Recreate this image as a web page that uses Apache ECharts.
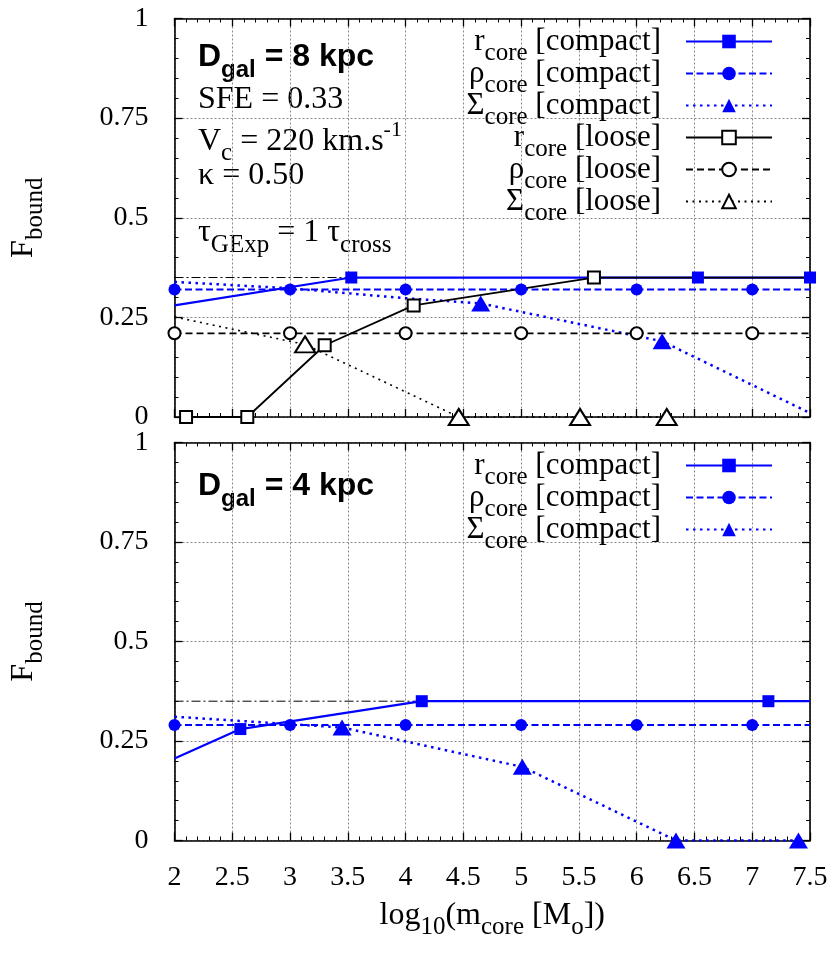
<!DOCTYPE html>
<html><head><meta charset="utf-8">
<script src="https://cdn.jsdelivr.net/npm/echarts/dist/echarts.min.js"></script>
<style>html,body{margin:0;padding:0;background:#fff}#c{width:830px;height:957px}</style>
</head><body><div id="c"></div>
<script>
// ---------- data ----------
const X_MIN = 2, X_MAX = 7.5, X_STEP = 0.5;
const Y_MIN = 0, Y_MAX = 1, Y_STEP = 0.25;

// Top panel: D_gal = 8 kpc
const top_rCompact_x = [2, 3.53, 6.53, 7.5];
const top_rCompact_y = [0.28, 0.35, 0.35, 0.35];
const top_rCompact_m = [0, 1, 1, 1];
const top_pCompact_x = [2, 3, 4, 5, 6, 7, 7.5];
const top_pCompact_y = [0.32, 0.32, 0.32, 0.32, 0.32, 0.32, 0.32];
const top_pCompact_m = [1, 1, 1, 1, 1, 1, 0];
const top_sCompact_x = [2, 3, 4, 4.65, 6.22, 7.5];
const top_sCompact_y = [0.339, 0.323, 0.298, 0.285, 0.19, 0.01];
const top_sCompact_m = [0, 0, 0, 1, 1, 0];
const top_rLoose_x = [2.1, 2.63, 3.3, 4.07, 5.63, 7.5];
const top_rLoose_y = [0, 0, 0.18, 0.28, 0.35, 0.35];
const top_rLoose_m = [1, 1, 1, 1, 1, 0];
const top_pLoose_x = [2, 3, 4, 5, 6, 7, 7.5];
const top_pLoose_y = [0.21, 0.21, 0.21, 0.21, 0.21, 0.21, 0.21];
const top_pLoose_m = [1, 1, 1, 1, 1, 1, 0];
const top_sLoose_x = [2, 3.13, 4.46, 5.51, 6.26];
const top_sLoose_y = [0.251, 0.182, 0, 0, 0];
const top_sLoose_m = [0, 1, 1, 1, 1];

// Bottom panel: D_gal = 4 kpc
const bot_rCompact_x = [2, 2.57, 4.14, 7.14, 7.5];
const bot_rCompact_y = [0.206, 0.28, 0.35, 0.35, 0.35];
const bot_rCompact_m = [0, 1, 1, 1, 0];
const bot_pCompact_x = [2, 3, 4, 5, 6, 7, 7.5];
const bot_pCompact_y = [0.29, 0.29, 0.29, 0.29, 0.29, 0.29, 0.29];
const bot_pCompact_m = [1, 1, 1, 1, 1, 1, 0];
const bot_sCompact_x = [2, 3.45, 5.01, 6.34, 7.4];
const bot_sCompact_y = [0.311, 0.284, 0.185, 0, 0];
const bot_sCompact_m = [0, 1, 1, 1, 1];

// reference level (dash-dot)
const refLine_x = [2, 7.5];
const refLine_y = [0.35, 0.35];

// legend labels
const legendNames_top = ['r8c', 'p8c', 's8c', 'r8l', 'p8l', 's8l'];
const legendNames_bot = ['r4c', 'p4c', 's4c'];
const legendSym  = {r8c:'r', p8c:'ρ', s8c:'Σ', r8l:'r', p8l:'ρ', s8l:'Σ', r4c:'r', p4c:'ρ', s4c:'Σ'};
const legendKind = {r8c:'compact', p8c:'compact', s8c:'compact', r8l:'loose', p8l:'loose', s8l:'loose', r4c:'compact', p4c:'compact', s4c:'compact'};

// ---------- styles ----------
const BLUE = '#0000ff';
const SERIF = 'Liberation Serif';
const SANS = 'Liberation Sans';
const ST = {
  rc: {symbol:'rect', size:12, color:BLUE, type:'solid', width:2.2},
  pc: {symbol:'circle', size:12, color:BLUE, type:[7,3.5], width:2},
  sc: {symbol:'triangle', size:[19,16], color:BLUE, type:[2.5,4.5], width:2.5},
  rl: {symbol:'emptyRect', size:12, color:'#000', type:'solid', width:1.8},
  pl: {symbol:'emptyCircle', size:12, color:'#000', type:[7,4], width:1.8},
  sl: {symbol:'emptyTriangle', size:[20,16], color:'#000', type:[2,4.5], width:1.6}
};

function line(name, gi, xs, ys, mk, st) {
  return {
    name: name, type: 'line', xAxisIndex: gi * 2, yAxisIndex: gi * 2,
    data: xs.map((x, i) => mk[i] ? {value: [x, ys[i]]} : {value: [x, ys[i]], symbol: 'none'}),
    symbol: st.symbol, symbolSize: st.size, showAllSymbol: true, clip: false,
    lineStyle: {color: st.color, width: st.width, type: st.type},
    itemStyle: {color: st.color, borderWidth: st.symbol.indexOf('empty') === 0 ? 1.8 : 0},
    emphasis: {disabled: true}, animation: false
  };
}
function refSeries(gi) {
  return {
    type: 'line', xAxisIndex: gi * 2, yAxisIndex: gi * 2, silent: true,
    data: refLine_x.map((x, i) => [x, refLine_y[i]]), symbol: 'none',
    lineStyle: {color: '#000', width: 1, type: [9, 3, 2, 3]}, animation: false, z: 1
  };
}

const richMain = {
  m: {fontFamily: SERIF, fontSize: 32, lineHeight: 40, color: '#000'},
  s: {fontFamily: SERIF, fontSize: 25, height: 16, verticalAlign: 'bottom', color: '#000'},
  p: {fontFamily: SERIF, fontSize: 22, height: 17, verticalAlign: 'top', color: '#000'},
  b: {fontFamily: SANS, fontWeight: 'bold', fontSize: 32, lineHeight: 40, color: '#000'},
  bs: {fontFamily: SANS, fontWeight: 'bold', fontSize: 24, height: 14, verticalAlign: 'bottom', color: '#000'}
};

function xAx(gi, pos, labels, named) {
  return {
    type: 'value', gridIndex: gi, position: pos, min: X_MIN, max: X_MAX, interval: X_STEP,
    axisLine: {show: true, onZero: false, lineStyle: {color: '#000', width: 1.6}},
    axisTick: {show: true, inside: true, length: 8, lineStyle: {color: '#000', width: 1.3}},
    minorTick: {show: true, splitNumber: 5, length: 4, lineStyle: {color: '#000', width: 1}},
    axisLabel: {show: labels, color: '#000', fontFamily: SERIF, fontSize: 28, margin: 23},
    splitLine: {show: pos === 'bottom', lineStyle: {color: '#888', type: [2, 2], width: 1}},
    name: named ? '{m|log}{s|10}{m|(m}{s|core}{m| [M}{s|o}{m|])}' : '',
    nameLocation: 'middle', nameGap: 55, nameMoveOverlap: false,
    nameTextStyle: {rich: richMain}
  };
}
function yAx(gi, pos, labels) {
  return {
    type: 'value', gridIndex: gi, position: pos, min: Y_MIN, max: Y_MAX, interval: Y_STEP,
    axisLine: {show: true, onZero: false, lineStyle: {color: '#000', width: 1.6}},
    axisTick: {show: true, inside: true, length: 8, lineStyle: {color: '#000', width: 1.3}},
    minorTick: {show: true, splitNumber: 5, length: 4, lineStyle: {color: '#000', width: 1}},
    axisLabel: {show: labels, color: '#000', fontFamily: SERIF, fontSize: 28, margin: 26},
    splitLine: {show: pos === 'left', lineStyle: {color: '#888', type: [2, 2], width: 1}},
    name: labels ? '{m|F}{s|bound}' : '',
    nameLocation: 'middle', nameRotate: 90, nameGap: 131, nameMoveOverlap: false,
    nameTextStyle: {rich: richMain}
  };
}

const legendRich = {
  m: {fontFamily: SERIF, fontSize: 31, lineHeight: 32, color: '#000'},
  e: {fontFamily: SERIF, fontSize: 31, lineHeight: 32, color: '#000', padding: [0, 20, 0, 0]},
  s: {fontFamily: SERIF, fontSize: 25, height: 8, verticalAlign: 'bottom', color: '#000'}
};
function legendFmt(name) {
  return '{m|' + legendSym[name] + '}{s|core}{e| [' + legendKind[name] + ']}';
}
function legend(names, top) {
  return {
    data: names, orient: 'vertical', align: 'right', right: 57, top: top, padding: 0,
    itemWidth: 86, itemHeight: 17, itemGap: -8, selectedMode: false,
    formatter: legendFmt, textStyle: {fontFamily: SERIF, fontSize: 31, color: '#000', rich: legendRich}
  };
}

function txt(left, top, text) {
  return {type: 'text', left: left, top: top, silent: true, style: {text: text, rich: richMain, fill: '#000'}};
}

const option = {
  backgroundColor: '#fff',
  animation: false,
  grid: [
    {left: 174.5, top: 18.5, width: 635.5, height: 398.5, containLabel: false, outerBoundsMode: 'none'},
    {left: 174.5, top: 442.5, width: 635.5, height: 398, containLabel: false, outerBoundsMode: 'none'}
  ],
  xAxis: [xAx(0, 'bottom', false, false), xAx(0, 'top', false, false), xAx(1, 'bottom', true, true), xAx(1, 'top', false, false)],
  yAxis: [yAx(0, 'left', true), yAx(0, 'right', false), yAx(1, 'left', true), yAx(1, 'right', false)],
  legend: [legend(legendNames_top, 26), legend(legendNames_bot, 450)],
  series: [
    refSeries(0),
    line('r8c', 0, top_rCompact_x, top_rCompact_y, top_rCompact_m, ST.rc),
    line('p8c', 0, top_pCompact_x, top_pCompact_y, top_pCompact_m, ST.pc),
    line('s8c', 0, top_sCompact_x, top_sCompact_y, top_sCompact_m, ST.sc),
    line('r8l', 0, top_rLoose_x, top_rLoose_y, top_rLoose_m, ST.rl),
    line('p8l', 0, top_pLoose_x, top_pLoose_y, top_pLoose_m, ST.pl),
    line('s8l', 0, top_sLoose_x, top_sLoose_y, top_sLoose_m, ST.sl),
    refSeries(1),
    line('r4c', 1, bot_rCompact_x, bot_rCompact_y, bot_rCompact_m, ST.rc),
    line('p4c', 1, bot_pCompact_x, bot_pCompact_y, bot_pCompact_m, ST.pc),
    line('s4c', 1, bot_sCompact_x, bot_sCompact_y, bot_sCompact_m, ST.sc)
  ],
  graphic: [
    txt(198, 41, '{b|D}{bs|gal}{b| = 8 kpc}'),
    txt(198, 84, '{m|SFE = 0.33}'),
    txt(198, 119, '{m|V}{s|c}{m| = 220 km.s}{p|-1}'),
    txt(198, 160, '{m|κ = 0.50}'),
    txt(198, 217, '{m|τ}{s|GExp}{m| = 1 τ}{s|cross}'),
    txt(198, 470, '{b|D}{bs|gal}{b| = 4 kpc}')
  ]
};
const chart = echarts.init(document.getElementById('c'), null, {renderer: 'canvas'});
chart.setOption(option);
</script></body></html>
